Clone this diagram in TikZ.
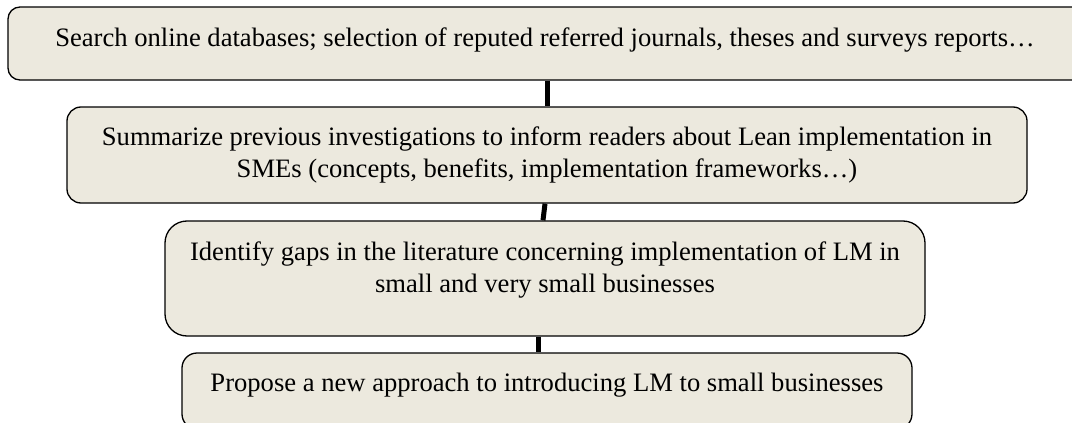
\documentclass[tikz,border=0pt]{standalone}
\usepackage{fontspec}
\setmainfont{Liberation Serif}
\definecolor{boxfill}{RGB}{236,233,222}
\begin{document}
\begin{tikzpicture}[x=1pt,y=-1pt,
  stagebox/.style={draw=black, line width=1.3pt, fill=boxfill, inner sep=0pt},
  stagetext/.style={align=center, font=\fontsize{26.6}{31.5}\selectfont, inner sep=0pt},
  link/.style={line width=5pt, black}]
\useasboundingbox (0,0) rectangle (1072,423);
\clip (0,0) rectangle (1072,423);
\fill[white] (0,0) rectangle (1072,423);

% the four stages, top to bottom
\node[stagebox, rounded corners=12pt, minimum width=1078pt, minimum height=73pt] (s1) at (547,43.5) {};
\node[stagebox, rounded corners=14pt, minimum width=960pt, minimum height=96pt] (s2) at (547,155) {};
\node[stagebox, rounded corners=22pt, minimum width=760pt, minimum height=115pt] (s3) at (545,278.5) {};
\node[stagebox, rounded corners=15pt, minimum width=730pt, minimum height=76pt] (s4) at (547,391) {};

% links between consecutive stages
\draw[link] (s1.south) -- (s2.north);
\draw[link] ([xshift=-2pt]s2.south) -- ([xshift=-2pt]s3.north);
\draw[link] ([xshift=-7pt]s3.south) -- ([xshift=-7pt]s3.south |- s4.north);

% stage texts
\node[stagetext] (t1) at (545,40) {Search online databases; selection of reputed referred journals, theses and surveys reports\dots};
\node[stagetext] (t2) at (547,155) {Summarize previous investigations to inform readers about Lean implementation in\\SMEs (concepts, benefits, implementation frameworks\dots)};
\node[stagetext] (t3) at (545,270) {Identify gaps in the literature concerning implementation of LM in\\small and very small businesses};
\node[stagetext] (t4) at (547,385) {Propose a new approach to introducing LM to small businesses};
\end{tikzpicture}
\end{document}
